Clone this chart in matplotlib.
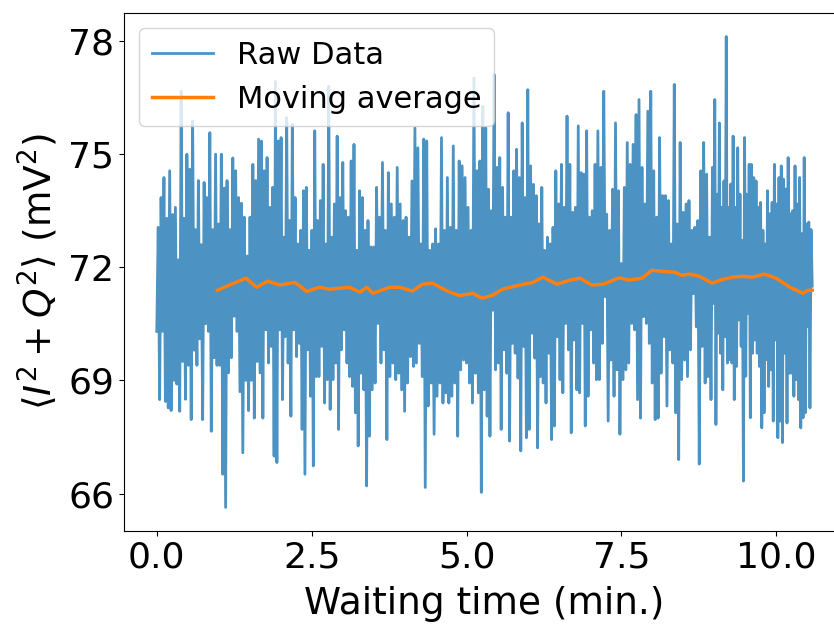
import numpy as np
import matplotlib
matplotlib.use("Agg")
import matplotlib.pyplot as plt

# ---- raw data ----
seg_edges = [0.0, 1.69, 3.50, 5.31, 7.12, 8.97, 10.58]   # minutes

raw_seg1 = [70.3, 73.06, 68.49, 73.85, 70.3, 74.38, 68.44, 73.3, 68.27, 74.56, 68.2, 73.4, 69.0, 73.59,
            68.9, 72.2, 68.18, 76.67, 69.5, 73.3, 68.5, 75.0, 69.4, 74.6, 67.96, 75.88, 69.8, 73.0, 69.4,
            74.3, 70.1, 72.6, 67.96, 74.25, 70.5, 73.85, 70.3, 75.57, 67.65, 73.0, 69.6, 75.0, 69.4, 73.15,
            69.4, 75.0, 66.51, 74.1, 65.63, 74.3, 69.2, 73.0, 69.6, 74.9, 70.7, 74.56, 70.3, 73.85, 68.7,
            73.7, 67.08, 73.33, 69.0, 72.3, 68.2, 73.33, 69.0, 74.73, 68.0, 74.3, 69.5, 75.4, 69.2]
raw_seg2 = [75.35, 68.0, 74.56, 70.34, 74.91, 69.46, 73.59, 69.9, 74.12, 66.99, 76.93, 66.82, 75.35, 70.34,
            75.44, 68.49, 72.8, 70.16, 75.97, 69.46, 73.24, 68.05, 75.79, 70.34, 73.85, 69.63, 72.62, 69.98,
            72.98, 67.7, 74.03, 66.51, 74.12, 69.81, 72.45, 68.58, 72.98, 66.73, 75.62, 69.1, 73.24, 69.1,
            73.77, 69.9, 74.73, 68.4, 72.62, 69.02, 76.8, 68.23, 72.8, 69.02, 73.68, 69.46, 75.48, 67.7,
            73.85, 69.81, 74.78, 70.34, 73.5, 69.46, 73.33, 69.1, 74.82, 68.84, 75.26, 68.14, 72.45, 67.26,
            74.03, 69.19, 73.85, 68.75, 72.98, 66.2, 73.24, 67.52, 72.54, 68.75]
raw_seg3 = [72.54, 68.93, 74.12, 70.51, 73.33, 69.46, 74.78, 69.81, 72.98, 67.43, 74.51, 69.1, 73.68, 69.46,
            73.33, 69.02, 74.65, 69.19, 73.68, 68.75, 73.24, 68.18, 73.33, 68.93, 72.8, 69.63, 74.29, 69.37,
            75.7, 69.46, 75.17, 69.98, 72.62, 69.1, 75.4, 66.16, 75.35, 68.32, 72.45, 68.93, 72.62, 67.57,
            73.02, 68.58, 72.62, 68.93, 75.44, 68.4, 72.98, 68.67, 74.38, 68.4, 73.06, 68.58, 75.22, 68.93,
            72.98, 67.52, 74.82, 69.28, 74.69, 69.54, 74.38, 69.46, 73.59, 68.93, 72.98, 68.4, 77.02, 69.19,
            74.56, 68.67, 74.82, 66.03, 76.27, 68.75]
raw_seg4 = [75.7, 68.05, 74.07, 67.52, 73.5, 70.86, 77.11, 69.28, 74.65, 69.46, 74.91, 67.7, 74.12, 69.81,
            73.33, 69.19, 76.1, 67.39, 73.33, 69.98, 74.56, 69.72, 75.13, 69.06, 74.38, 67.13, 75.83, 69.9,
            73.85, 67.48, 76.71, 67.7, 74.69, 70.25, 74.2, 69.59, 73.9, 67.21, 73.15, 69.1, 74.12, 68.93,
            72.45, 68.4, 72.8, 69.72, 72.62, 67.43, 73.06, 67.79, 74.56, 70.16, 73.68, 69.02, 74.73, 68.67,
            73.59, 70.51, 76.01, 69.81, 74.73, 67.61, 73.46, 70.07, 73.59, 68.75, 75.75, 68.67, 74.51, 70.51,
            74.47, 67.79, 75.62, 68.58, 73.33, 70.34, 73.5, 69.46, 74.73, 69.02]
raw_seg5 = [75.62, 69.02, 74.65, 69.98, 76.67, 71.22, 73.41, 67.92, 72.98, 69.54, 74.07, 68.58, 75.83, 69.28,
            74.03, 67.57, 72.1, 69.02, 74.12, 69.28, 75.31, 69.46, 74.73, 70.51, 75.26, 70.34, 76.05, 68.49,
            76.45, 68.0, 74.65, 70.69, 73.68, 70.51, 76.14, 69.98, 76.67, 68.93, 74.56, 67.96, 73.33, 68.0,
            75.44, 69.19, 73.9, 70.16, 73.9, 68.32, 73.77, 69.81, 72.62, 69.46, 76.85, 68.14, 73.15, 66.9,
            75.31, 69.02, 73.46, 69.54, 73.68, 69.1, 73.77, 69.81, 72.98, 71.3, 73.06, 70.42, 73.24, 66.78,
            74.56, 69.9, 75.31, 68.93, 74.47, 69.1, 72.8, 68.49]
raw_seg6 = [74.65, 71.04, 76.45, 67.83, 73.94, 70.25, 75.83, 69.72, 73.59, 68.75, 74.29, 70.16, 78.12, 69.46,
            73.59, 69.55, 74.21, 69.46, 75.48, 68.49, 73.59, 69.37, 75.17, 70.6, 73.94, 69.9, 72.71, 66.33,
            75.44, 69.11, 73.94, 70.78, 74.73, 68.01, 74.73, 69.72, 74.38, 70.07, 74.29, 69.72, 73.59, 69.37,
            73.72, 67.74, 72.98, 68.14, 72.62, 69.55, 74.03, 68.84, 73.42, 69.28, 73.72, 67.92, 74.73, 70.07,
            73.68, 67.48, 74.38, 67.92, 74.69, 67.35, 74.34, 69.72, 74.08, 67.87, 74.91, 69.19, 73.42, 69.19,
            73.5, 68.58, 74.69, 69.02, 73.68, 68.49, 74.38, 67.74, 72.89, 68.01, 74.91, 68.14, 73.15, 70.43,
            73.2, 68.27, 73.0, 71.5]

# ---- moving average ----
ma_t = [0.98, 1.13, 1.44, 1.61, 1.79, 1.99, 2.23, 2.42, 2.63, 2.79, 3.11, 3.28, 3.39, 3.49, 3.76, 3.92,
        4.13, 4.29, 4.45, 4.57, 4.73, 4.89, 5.10, 5.25, 5.42, 5.58, 5.86, 6.07, 6.23, 6.46, 6.67, 6.83,
        7.02, 7.20, 7.47, 7.63, 7.83, 7.99, 8.17, 8.36, 8.47, 8.60, 8.76, 8.96, 9.14, 9.30, 9.46, 9.62,
        9.81, 10.0, 10.22, 10.43, 10.51, 10.58]
ma_v = [71.39, 71.50, 71.71, 71.47, 71.63, 71.53, 71.60, 71.36, 71.47, 71.42, 71.47, 71.34, 71.47, 71.31,
        71.47, 71.47, 71.37, 71.55, 71.58, 71.47, 71.34, 71.25, 71.31, 71.18, 71.26, 71.42, 71.53, 71.60,
        71.74, 71.55, 71.66, 71.71, 71.53, 71.55, 71.72, 71.66, 71.71, 71.92, 71.89, 71.87, 71.79, 71.82,
        71.76, 71.58, 71.68, 71.74, 71.76, 71.74, 71.82, 71.71, 71.47, 71.31, 71.39, 71.39]

segments = [raw_seg1, raw_seg2, raw_seg3, raw_seg4, raw_seg5, raw_seg6]
t_parts, v_parts = [], []
for i, seg in enumerate(segments):
    last = (i == len(segments) - 1)
    t_parts.append(np.linspace(seg_edges[i], seg_edges[i + 1], len(seg), endpoint=last))
    v_parts.append(np.array(seg))
raw_t = np.concatenate(t_parts)
raw_v = np.concatenate(v_parts)

fig = plt.figure(figsize=(8.34, 6.24), dpi=100)
ax = fig.add_axes([124 / 834, (624 - 531) / 624, (845 - 124) / 834, (531 - 13) / 624])

ax.plot(raw_t, raw_v, color='#1f77b4', alpha=0.8, lw=2.0, label='Raw Data')
ax.plot(ma_t, ma_v, color='#ff7f0e', lw=2.5, label='Moving average')

ax.set_xticks([0.0, 2.5, 5.0, 7.5, 10.0])
ax.set_yticks([66, 69, 72, 75, 78])
ax.tick_params(labelsize=26)
ax.set_xlabel('Waiting time (min.)', fontsize=27, labelpad=8)
ax.set_ylabel(r'$\langle I^2+Q^2\rangle$ (mV$^2$)', fontsize=27, labelpad=6)
ax.legend(loc='upper left', fontsize=22)

fig.savefig('out.png', dpi=100)
